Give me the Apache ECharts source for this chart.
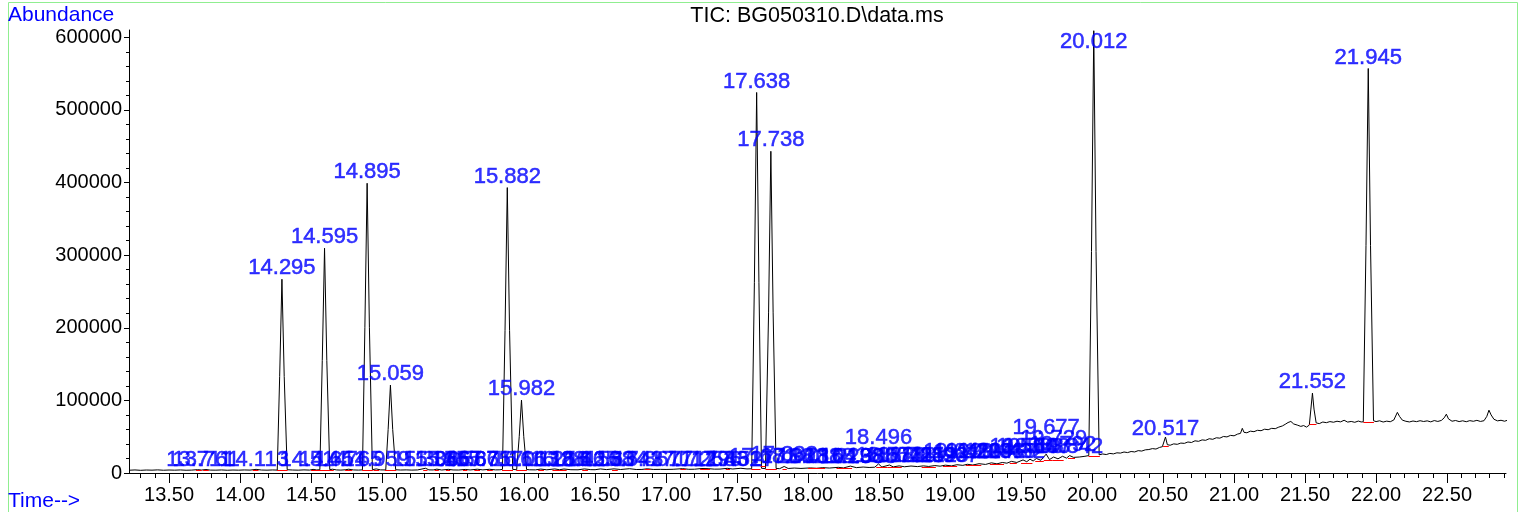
<!DOCTYPE html>
<html><head><meta charset="utf-8">
<script src="https://cdn.jsdelivr.net/npm/echarts@6/dist/echarts.min.js"></script>
<style>html,body{margin:0;padding:0;background:#fff}#c{width:1528px;height:512px}</style>
</head><body><div id="c"></div>
<script>
// ---- data: [retention time (min), abundance] ----
const trace = [
[13.218,3800],[13.26,4200],[13.30,3700],[13.34,4100],[13.38,3900],[13.42,4300],[13.46,3800],[13.50,4100],[13.54,3900],[13.58,4200],[13.62,3800],[13.66,4000],[13.70,4600],[13.73,4100],[13.76,4800],[13.79,4000],[13.83,3900],[13.87,4200],[13.91,3800],[13.95,4100],[13.99,3900],[14.03,4200],[14.07,4000],[14.113,5000],[14.15,4100],[14.19,3900],[14.23,4200],
[14.262,4000],[14.279,133000],[14.295,266800],[14.311,133000],[14.332,4500],
[14.37,4100],[14.41,3900],[14.45,4300],[14.49,4000],[14.514,5000],[14.54,4200],
[14.562,4500],[14.579,155000],[14.595,309500],[14.611,155000],[14.632,4600],
[14.651,5200],[14.68,4200],[14.71,4000],[14.74,4400],[14.765,5200],[14.80,4200],[14.835,4000],
[14.862,4300],[14.879,200000],[14.895,399000],[14.911,200000],[14.932,4600],
[14.959,5600],[14.99,4300],
[15.026,4200],[15.043,60000],[15.059,121000],[15.075,60000],[15.096,4500],
[15.13,4100],[15.17,4300],[15.21,4000],[15.25,4200],[15.306,6500],[15.33,4300],[15.36,4200],[15.386,5300],[15.42,4100],[15.467,5000],[15.50,4200],[15.54,4100],[15.586,4900],[15.62,4200],[15.671,5200],[15.71,4300],[15.757,5100],[15.80,4300],[15.83,4400],
[15.848,5000],[15.866,196000],[15.882,393000],[15.898,196000],[15.92,5000],
[15.948,4500],[15.966,50000],[15.982,100400],[15.998,50000],[16.018,4800],
[16.04,4400],[16.08,4300],[16.118,5400],[16.16,4400],[16.216,5600],[16.25,4500],[16.281,5500],[16.33,4500],[16.38,4400],[16.425,5600],[16.47,4600],[16.50,4500],[16.538,5600],[16.58,4700],[16.634,5700],[16.68,4800],[16.743,5900],[16.79,4800],[16.83,4900],[16.867,5800],[16.91,4900],[16.96,5000],[17.00,4900],[17.05,5100],[17.117,6000],[17.16,5100],[17.20,5200],[17.253,6200],[17.296,6000],[17.34,5300],[17.38,5400],[17.431,6400],[17.47,5500],[17.527,6500],[17.57,5600],
[17.603,5800],[17.622,262000],[17.638,524000],[17.654,262000],[17.672,6500],[17.681,8000],[17.700,6000],
[17.722,221500],[17.738,443000],[17.754,221500],[17.775,6200],
[17.80,6000],[17.832,9000],[17.86,6200],[17.903,6800],[17.95,6300],[18.016,7000],[18.06,6500],[18.104,7400],[18.15,6800],[18.213,7800],[18.25,7000],[18.298,9500],[18.34,7400],[18.388,8200],[18.43,7600],[18.47,8000],[18.496,12500],[18.52,8200],[18.573,11000],[18.60,8400],[18.641,9800],[18.68,8600],[18.725,9600],[18.77,8800],[18.812,9800],[18.85,9000],[18.893,10200],[18.93,9400],[18.967,10800],[19.01,9800],[19.048,11400],[19.09,10500],[19.121,12000],[19.16,11000],[19.204,12800],[19.25,11800],[19.291,14000],[19.33,12600],[19.368,14500],[19.40,13500],[19.432,16000],[19.47,14500],[19.514,18000],[19.54,15500],[19.563,19000],[19.585,16500],[19.608,20000],[19.64,17500],[19.677,26000],[19.70,18500],[19.729,22000],[19.76,19500],[19.792,23000],[19.82,20500],[19.842,24000],[19.87,21500],[19.91,22000],[19.95,23000],
[19.977,24000],[19.996,305000],[20.012,609000],[20.028,305000],[20.05,25000],
[20.075,26200],[20.10,25400],[20.125,27000],[20.15,26300],[20.175,27800],[20.20,27400],[20.225,28900],[20.25,28100],[20.275,29600],[20.30,29000],[20.325,30800],[20.35,30200],[20.375,31900],[20.40,32300],[20.425,33600],[20.45,33000],[20.475,35200],[20.495,36200],[20.505,38000],[20.517,49500],[20.53,39000],[20.55,38200],[20.575,40100],[20.60,39500],[20.625,41200],[20.65,40800],[20.675,42700],[20.70,42000],[20.725,44300],[20.75,43600],[20.775,45600],[20.80,45000],[20.825,47200],[20.85,46400],[20.875,48500],[20.90,48000],[20.925,50300],[20.95,49700],[20.975,51800],[21.00,51200],[21.025,53600],[21.045,54500],[21.058,61500],[21.07,56000],[21.09,55400],[21.115,57600],[21.14,56900],[21.165,58800],[21.19,58200],[21.215,60300],[21.24,59600],[21.265,61500],[21.29,61000],[21.315,63200],[21.34,64800],[21.36,67000],[21.38,69500],[21.40,71000],[21.42,67500],[21.445,66000],[21.47,64200],[21.49,65300],[21.51,63200],
[21.53,66000],[21.541,88000],[21.552,110000],[21.563,88000],[21.578,69000],
[21.60,68000],[21.625,70200],[21.65,69300],[21.675,70800],[21.70,69900],[21.725,71300],[21.75,70400],[21.775,72600],[21.80,70100],[21.825,71000],[21.85,69800],[21.875,71500],[21.895,70300],
[21.91,70500],[21.929,313000],[21.945,557000],[21.961,313000],[21.982,72000],
[22.00,70800],[22.025,71900],[22.05,70200],[22.075,71400],[22.10,70600],[22.125,73000],[22.15,83500],[22.165,78000],[22.185,72800],[22.21,71200],[22.235,70300],[22.26,71600],[22.285,70700],[22.31,72000],[22.335,70900],[22.36,71800],[22.385,70400],[22.41,72200],[22.435,71000],[22.46,72400],[22.48,76000],[22.495,81000],[22.51,74500],[22.535,71300],[22.56,72300],[22.585,70800],[22.61,71900],[22.635,70600],[22.66,72100],[22.685,71200],[22.71,72500],[22.735,71000],[22.76,72000],[22.78,78000],[22.795,86500],[22.81,80000],[22.83,74000],[22.855,71800],[22.88,72600],[22.905,71300],[22.93,73000]
];

// peak labels (retention times) and the abundance level at which each label sits
const peakLabels = ['13.711','13.761','14.113','14.295','14.514','14.595','14.651','14.765','14.895','14.959','15.059','15.306','15.386','15.467','15.586','15.671','15.757','15.882','15.982','16.013','16.118','16.216','16.281','16.425','16.538','16.634','16.743','16.867','17.117','17.253','17.296','17.431','17.527','17.638','17.681','17.738','17.832','17.903','18.016','18.104','18.213','18.298','18.388','18.496','18.573','18.641','18.725','18.812','18.893','18.967','19.048','19.121','19.204','19.291','19.368','19.432','19.514','19.563','19.608','19.677','19.729','19.792','19.842','20.012','20.517','21.552','21.945'];
const labelLevel = [3400,3400,3400,266800,3400,309500,3400,3400,399000,3400,121000,3400,3400,3400,3400,3400,3400,393000,100400,3400,3400,3400,3400,3400,3400,3400,3400,3400,3400,3400,3400,3400,3400,524000,7000,443000,10300,7600,7600,7600,7600,7600,7600,33700,9000,9000,9000,9000,9000,9000,14400,14400,14400,14400,14400,14400,21300,21300,21300,47400,32300,24000,21300,609000,46000,110000,557000];

// red integration baselines: start time, end time, start level, end level
const intT1 = [13.69,13.74,14.09,14.26,14.50,14.62,14.74,14.86,14.94,15.02,15.29,15.37,15.45,15.57,15.65,15.74,15.845,15.945,16.10,16.20,16.41,16.62,16.85,17.10,17.24,17.42,17.60,17.665,17.70,17.82,18.00,18.20,18.48,18.56,18.80,18.95,19.11,19.28,19.42,19.50,19.60,19.66,19.72,19.83,19.975,20.50,21.53,21.91];
const intT2 = [13.73,13.78,14.13,14.335,14.635,14.66,14.79,14.935,14.98,15.10,15.32,15.40,15.48,15.60,15.69,15.78,15.922,16.02,16.14,16.30,16.45,16.66,16.89,17.14,17.31,17.45,17.665,17.70,17.78,17.85,18.12,18.31,18.56,18.66,18.90,19.05,19.22,19.38,19.47,19.58,19.66,19.72,19.80,19.88,20.055,20.54,21.58,21.985];
const intV1 = [3800,3800,3700,3700,3700,3800,3800,3800,3900,3900,3900,3900,3900,3900,4000,4000,4000,4100,4100,4200,4300,4400,4500,4700,4800,5000,5200,9000,5500,5800,6200,6800,7600,7800,8500,9200,10000,11500,13000,14000,15500,17500,18000,20000,23500,36500,66500,70000];
const intV2 = [3800,3800,3700,3700,3700,3800,3800,3800,3900,3900,3900,3900,3900,3900,4000,4000,4000,4100,4100,4200,4300,4400,4500,4700,4800,5000,5200,9000,5500,5800,6200,6800,7600,7800,8500,9200,10000,11500,13000,14000,15500,17500,18000,20000,23500,36500,66500,70000];

const xMajor = [13.5,14.0,14.5,15.0,15.5,16.0,16.5,17.0,17.5,18.0,18.5,19.0,19.5,20.0,20.5,21.0,21.5,22.0,22.5];
const xMinor = [13.3,13.4,13.6,13.7,13.8,13.9,14.1,14.2,14.3,14.4,14.6,14.7,14.8,14.9,15.1,15.2,15.3,15.4,15.6,15.7,15.8,15.9,16.1,16.2,16.3,16.4,16.6,16.7,16.8,16.9,17.1,17.2,17.3,17.4,17.6,17.7,17.8,17.9,18.1,18.2,18.3,18.4,18.6,18.7,18.8,18.9,19.1,19.2,19.3,19.4,19.6,19.7,19.8,19.9,20.1,20.2,20.3,20.4,20.6,20.7,20.8,20.9,21.1,21.2,21.3,21.4,21.6,21.7,21.8,21.9,22.1,22.2,22.3,22.4,22.6,22.7,22.8,22.9];
const yMajor = [0,100000,200000,300000,400000,500000,600000];
const yMinor = [20000,40000,60000,80000,120000,140000,160000,180000,220000,240000,260000,280000,320000,340000,360000,380000,420000,440000,460000,480000,520000,540000,560000,580000];

const titleText = 'TIC: BG050310.D\\data.ms';
const yName = 'Abundance';
const xName = 'Time-->';

// ---- chart ----
const FONT = "'Liberation Sans', Arial, sans-serif";
const X_MIN = 13.218, X_MAX = 22.915, Y_MAX = 610000;
const chart = echarts.init(document.getElementById('c'), null, {renderer: 'canvas'});
const segs = intT1.map((t, i) => ({coords: [[t, intV1[i]], [intT2[i], intV2[i]]]}));
const labelData = peakLabels.map((s, i) => {
  const d = {value: [parseFloat(s), labelLevel[i]], name: s};
  if (labelLevel[i] > 590000) d.label = {position: 'bottom', distance: 0}; // kept inside the plot, as in the reference
  return d;
});
chart.setOption({
  animation: false,
  backgroundColor: '#ffffff',
  grid: {left: 129, right: 22, top: 30, bottom: 39, containLabel: false},
  xAxis: [
    {type: 'value', min: X_MIN, max: X_MAX, position: 'bottom',
     axisLine: {show: true, onZero: false, lineStyle: {color: '#000', width: 1}},
     axisTick: {show: true, length: 10, customValues: xMajor, lineStyle: {color: '#000'}},
     axisLabel: {show: true, customValues: xMajor, margin: 12, color: '#000', fontSize: 20, fontFamily: FONT,
                 formatter: v => v.toFixed(2)},
     splitLine: {show: false}},
    {type: 'value', min: X_MIN, max: X_MAX, position: 'bottom',
     axisLine: {show: false},
     axisTick: {show: true, length: 5, customValues: xMinor, lineStyle: {color: '#000'}},
     axisLabel: {show: false}, splitLine: {show: false}}
  ],
  yAxis: [
    {type: 'value', min: 0, max: Y_MAX, position: 'left',
     axisLine: {show: true, onZero: false, lineStyle: {color: '#000', width: 1}},
     axisTick: {show: true, length: 5, customValues: yMajor, lineStyle: {color: '#000'}},
     axisLabel: {show: true, customValues: yMajor, margin: 7, color: '#000', fontSize: 20, fontFamily: FONT,
                 formatter: v => String(v)},
     splitLine: {show: false}},
    {type: 'value', min: 0, max: Y_MAX, position: 'left',
     axisLine: {show: false},
     axisTick: {show: true, length: 3, customValues: yMinor, lineStyle: {color: '#000'}},
     axisLabel: {show: false}, splitLine: {show: false}}
  ],
  series: [
    {type: 'line', xAxisIndex: 0, yAxisIndex: 0, symbol: 'none', z: 3,
     data: trace, lineStyle: {color: '#000', width: 1}},
    {type: 'lines', coordinateSystem: 'cartesian2d', xAxisIndex: 0, yAxisIndex: 0, z: 4,
     data: segs, lineStyle: {color: '#ff0000', width: 1, opacity: 1}},
    {type: 'scatter', xAxisIndex: 0, yAxisIndex: 0, symbolSize: 0, z: 5,
     data: labelData,
     label: {show: true, position: 'top', distance: 0, color: '#0000ff', fontSize: 22, fontFamily: FONT,
             textBorderColor: '#0000ff', textBorderWidth: 0.5,
             formatter: p => p.name},
     emphasis: {disabled: true}}
  ],
  graphic: [
    {type: 'rect', shape: {x: 8.5, y: 2.5, width: 1509, height: 530}, style: {fill: 'none', stroke: '#90ee90', lineWidth: 1}, silent: true},
    {type: 'text', x: 8, y: 15, style: {text: yName, fill: '#0000ff', font: '21px ' + FONT, textVerticalAlign: 'middle'}},
    {type: 'text', x: 8, y: 501, style: {text: xName, fill: '#0000ff', font: '21px ' + FONT, textVerticalAlign: 'middle'}},
    {type: 'text', x: 817, y: 16, style: {text: titleText, fill: '#000', font: '21.5px ' + FONT, textAlign: 'center', textVerticalAlign: 'middle'}}
  ]
});
</script></body></html>
